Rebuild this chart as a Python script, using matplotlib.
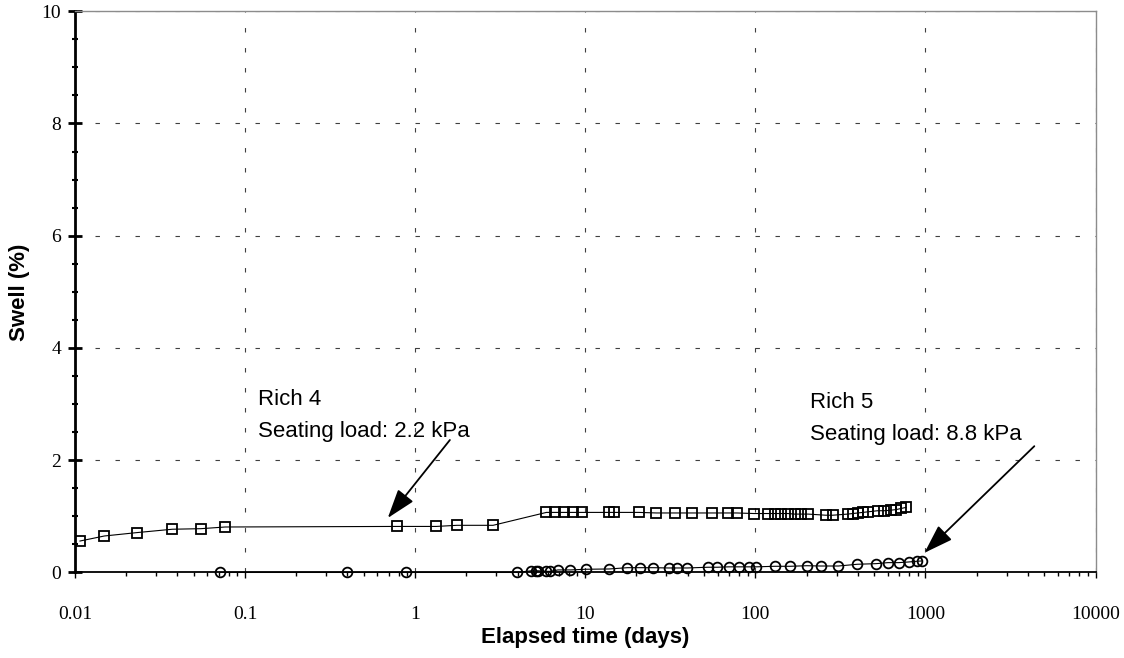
import numpy as np
import matplotlib.pyplot as plt
from matplotlib.ticker import LogLocator, NullFormatter, MultipleLocator, FixedLocator, FixedFormatter

# Rich 4, seating load 2.2 kPa (squares)
rich4_days = [0.0107, 0.0149, 0.0231, 0.0373, 0.055, 0.0764, 0.783, 1.33, 1.76, 2.87,
              5.91, 6.67, 7.5, 8.47, 9.57, 13.8, 14.8, 20.6, 26.2, 33.5, 42.4, 55.5,
              68.9, 77.8, 98, 118, 130, 142, 155, 170, 186, 204, 259, 285, 349, 374,
              400, 428, 458, 524, 574, 628, 672, 719, 771]
rich4_swell = [0.56, 0.65, 0.71, 0.77, 0.78, 0.81, 0.82, 0.82, 0.84, 0.84,
               1.07, 1.07, 1.07, 1.07, 1.07, 1.07, 1.07, 1.07, 1.06, 1.06, 1.06, 1.06,
               1.06, 1.06, 1.05, 1.05, 1.05, 1.05, 1.05, 1.04, 1.04, 1.04, 1.02, 1.02, 1.04, 1.05,
               1.06, 1.07, 1.08, 1.10, 1.10, 1.11, 1.12, 1.14, 1.16]

# Rich 5, seating load 8.8 kPa (circles)
rich5_days = [0.0714, 0.400, 0.881, 3.97, 4.82, 5.11, 5.27, 5.91, 6.24, 6.91, 8.17,
              10.05, 13.8, 17.7, 20.9, 25.0, 30.9, 34.8, 39.8, 52.6, 59.7, 69.8, 80.0,
              91.6, 101, 130, 160, 201, 242, 308, 397, 513, 601, 697, 798, 893, 957]
rich5_swell = [0.0, 0.0, 0.0, 0.0, 0.03, 0.03, 0.03, 0.02, 0.02, 0.045, 0.045,
               0.057, 0.062, 0.085, 0.085, 0.085, 0.08, 0.08, 0.08, 0.093, 0.093, 0.10, 0.10,
               0.10, 0.10, 0.11, 0.11, 0.12, 0.115, 0.115, 0.146, 0.157, 0.175, 0.175, 0.187, 0.20, 0.205]

x_ticks = [0.01, 0.1, 1, 10, 100, 1000, 10000]
x_tick_labels = ['0.01', '0.1', '1', '10', '100', '1000', '10000']

fig = plt.figure(figsize=(11.24, 6.58), dpi=100)
ax = fig.add_axes([0.0667, 0.130, 0.908, 0.853])

ax.plot(rich4_days, rich4_swell, color='black', lw=0.8, marker='s', ms=7,
        mfc='none', mec='black', mew=1.3, zorder=3)
ax.plot(rich5_days, rich5_swell, color='black', lw=0.8, marker='o', ms=7,
        mfc='none', mec='black', mew=1.3, zorder=3, clip_on=False)

ax.set_xscale('log')
ax.set_xlim(0.01, 10000)
ax.set_ylim(0, 10)

ax.xaxis.set_major_locator(FixedLocator(x_ticks))
ax.xaxis.set_major_formatter(FixedFormatter(x_tick_labels))
ax.xaxis.set_minor_locator(LogLocator(base=10, subs=np.arange(2, 10)))
ax.xaxis.set_minor_formatter(NullFormatter())
ax.yaxis.set_major_locator(MultipleLocator(2))
ax.yaxis.set_minor_locator(MultipleLocator(0.5))

for lab in ax.get_xticklabels() + ax.get_yticklabels():
    lab.set_fontfamily('Liberation Serif')
    lab.set_fontsize(14)

ax.tick_params(axis='y', which='major', direction='inout', length=10, width=2, pad=5)
ax.tick_params(axis='y', which='minor', direction='inout', length=5, width=1.5)
ax.tick_params(axis='x', which='major', direction='out', length=4, width=1, pad=20)
ax.tick_params(axis='x', which='minor', direction='out', length=3, width=1)

ax.grid(True, which='major', color='0.25', lw=0.8, linestyle=(0, (4, 14)))

ax.spines['left'].set_linewidth(2)
ax.spines['bottom'].set_linewidth(1.3)
for side in ['top', 'right']:
    ax.spines[side].set_color('0.55')
    ax.spines[side].set_linewidth(1)

ax.set_xlabel('Elapsed time (days)', fontfamily='Liberation Sans', fontweight='bold',
              fontsize=16, labelpad=3)
ax.set_ylabel('Swell (%)', fontfamily='Liberation Sans', fontweight='bold',
              fontsize=16, labelpad=8)

ann_font = dict(fontfamily='Liberation Sans', fontsize=16, color='black')
ax.text(0.119, 2.98, 'Rich 4', **ann_font)
ax.text(0.119, 2.41, 'Seating load: 2.2 kPa', **ann_font)
ax.text(210, 2.93, 'Rich 5', **ann_font)
ax.text(210, 2.36, 'Seating load: 8.8 kPa', **ann_font)

arrow = dict(arrowstyle='-|>,head_length=0.9,head_width=0.3', color='black', lw=1.3,
             mutation_scale=20, shrinkA=0, shrinkB=0)
ax.annotate('', xy=(0.69, 0.97), xytext=(1.60, 2.36), arrowprops=arrow)
ax.annotate('', xy=(986, 0.35), xytext=(4365, 2.25), arrowprops=arrow)

fig.savefig('out.png', dpi=100)
